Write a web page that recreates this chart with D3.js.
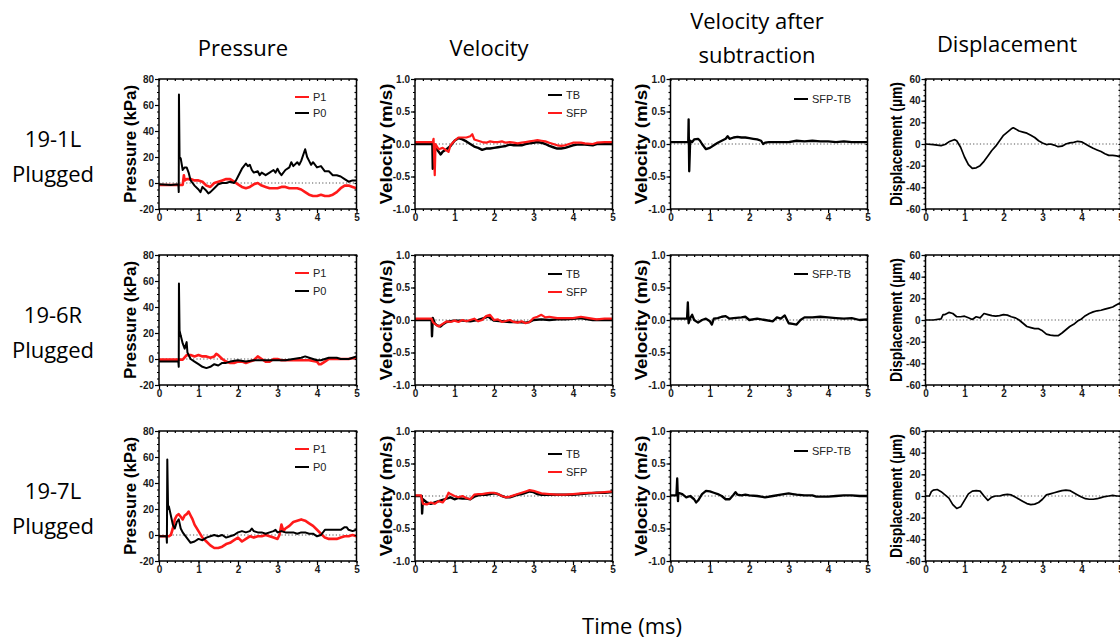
<!DOCTYPE html>
<html>
<head>
<meta charset="utf-8">
<script src="https://cdn.jsdelivr.net/npm/d3@7"></script>
<style>
  body { margin: 0; background: #fff; }
  svg { display: block; }
</style>
</head>
<body>
<svg id="fig" width="1120" height="639"></svg>
<script>
// ---- labels / ticks ----
const colTitles = [["Pressure"], ["Velocity"], ["Velocity after", "subtraction"], ["Displacement"]]
const rowLabels = [["19-1L", "Plugged"], ["19-6R", "Plugged"], ["19-7L", "Plugged"]]
const xTicks = [0, 1, 2, 3, 4, 5]
const pressTicks = [-20, 0, 20, 40, 60, 80]
const velTicks = [-1.0, -0.5, 0.0, 0.5, 1.0]
const dispTicks = [-60, -40, -20, 0, 20, 40, 60]

// ---- 19-1L ----
const p1_1L = [[0,-1.5],[0.3,-1.5],[0.6,-1.5],[0.63,6],[0.65,2],[0.7,3],[0.8,3],[0.9,2],[1.0,2],[1.1,1],[1.2,-2],[1.3,-3],[1.4,0],[1.5,1],[1.6,2],[1.7,3],[1.8,3],[1.9,1],[2.0,-1],[2.1,-3],[2.2,-4],[2.3,-3],[2.4,-1],[2.5,0],[2.6,-2],[2.7,-3],[2.8,-4],[2.9,-4],[3.0,-4],[3.1,-3],[3.2,-3],[3.3,-4],[3.4,-4],[3.5,-4],[3.6,-5],[3.7,-7],[3.8,-9],[3.9,-10],[4.0,-10],[4.1,-9],[4.2,-10],[4.3,-10],[4.4,-9],[4.5,-7],[4.6,-4],[4.7,-2],[4.8,-2],[4.9,-3],[5.0,-4]]
const p0_1L = [[0,-1],[0.3,-1.5],[0.49,-1],[0.5,-7],[0.505,68],[0.52,20],[0.55,19],[0.6,10],[0.65,12],[0.7,12],[0.75,8],[0.8,2],[0.85,0],[0.9,-2],[1.0,-5],[1.05,-7],[1.1,-3],[1.2,-6],[1.25,-8],[1.3,-7],[1.4,-4],[1.5,-1],[1.6,0],[1.7,0],[1.8,1],[1.9,0],[1.95,2],[2.0,5],[2.1,11],[2.2,15],[2.25,13],[2.3,14],[2.35,10],[2.4,8],[2.5,9],[2.55,6],[2.6,8],[2.7,6],[2.8,8],[2.9,10],[2.95,8],[3.0,11],[3.05,8],[3.1,6],[3.2,10],[3.3,12],[3.35,16],[3.4,13],[3.5,16],[3.55,14],[3.6,17],[3.7,26],[3.75,20],[3.8,17],[3.85,14],[3.9,16],[4.0,12],[4.1,13],[4.2,9],[4.3,9],[4.4,6],[4.5,6],[4.6,5],[4.7,3],[4.8,1],[4.9,2],[5.0,2]]
const tb_1L = [[0,0],[0.44,0],[0.45,-0.38],[0.47,-0.05],[0.55,-0.08],[0.6,-0.12],[0.65,-0.16],[0.7,-0.12],[0.8,-0.08],[0.9,-0.03],[1.0,0.05],[1.1,0.09],[1.2,0.07],[1.3,0.04],[1.4,0.0],[1.5,-0.04],[1.6,-0.06],[1.7,-0.09],[1.8,-0.07],[1.9,-0.07],[2.0,-0.06],[2.1,-0.05],[2.2,-0.04],[2.3,-0.03],[2.4,-0.01],[2.5,-0.02],[2.6,-0.02],[2.7,-0.02],[2.8,0.0],[2.9,0.01],[3.0,0.02],[3.1,0.03],[3.2,0.02],[3.3,0.0],[3.4,-0.03],[3.5,-0.05],[3.6,-0.07],[3.7,-0.07],[3.8,-0.06],[3.9,-0.04],[4.0,-0.02],[4.1,-0.01],[4.3,-0.01],[4.5,-0.02],[4.6,0.0],[5.0,0.0]]
const sfp_1L = [[0,0.03],[0.45,0.03],[0.47,0.08],[0.5,-0.48],[0.52,0.0],[0.55,-0.03],[0.6,-0.08],[0.7,-0.06],[0.8,-0.1],[0.85,-0.12],[0.9,-0.02],[1.0,0.05],[1.1,0.1],[1.2,0.1],[1.3,0.1],[1.4,0.12],[1.45,0.15],[1.5,0.07],[1.6,0.05],[1.7,0.03],[1.8,0.02],[1.9,0.04],[2.0,0.03],[2.1,0.03],[2.2,0.04],[2.3,0.02],[2.4,0.03],[2.5,0.02],[2.6,0.01],[2.7,0.02],[2.8,0.03],[2.9,0.04],[3.0,0.05],[3.1,0.06],[3.2,0.05],[3.3,0.04],[3.4,0.02],[3.5,0.0],[3.6,-0.02],[3.7,-0.03],[3.8,-0.02],[3.9,0.0],[4.0,0.02],[4.2,0.02],[4.3,0.01],[4.5,0.0],[4.6,0.02],[4.8,0.03],[5.0,0.03]]
const diff_1L = [[0,0.03],[0.45,0.03],[0.46,0.38],[0.475,-0.42],[0.5,0.05],[0.55,0.03],[0.6,0.07],[0.7,0.08],[0.75,0.05],[0.8,0.0],[0.9,-0.08],[1.0,-0.06],[1.1,-0.02],[1.2,0.02],[1.3,0.05],[1.4,0.08],[1.45,0.12],[1.5,0.08],[1.6,0.1],[1.7,0.11],[1.8,0.1],[1.9,0.1],[2.0,0.09],[2.1,0.08],[2.2,0.07],[2.3,0.05],[2.35,0.0],[2.4,0.02],[2.5,0.03],[2.8,0.03],[3.0,0.03],[3.2,0.05],[3.4,0.04],[3.6,0.05],[3.8,0.04],[4.0,0.04],[4.2,0.03],[4.4,0.04],[4.6,0.03],[5.0,0.03]]
const disp_1L = [[0,0],[0.2,-0.5],[0.4,-1.5],[0.5,-0.5],[0.6,2],[0.7,3.5],[0.75,4],[0.8,3],[0.9,-3],[1.0,-12],[1.1,-19],[1.2,-22.5],[1.3,-22],[1.4,-20],[1.5,-16],[1.6,-11],[1.7,-6],[1.8,-2],[1.9,3],[2.0,8],[2.1,11],[2.2,14],[2.25,15],[2.3,14],[2.4,12],[2.5,11],[2.6,10],[2.7,8],[2.8,6],[2.9,3],[3.0,1],[3.1,-0.5],[3.2,0],[3.3,-1],[3.4,-2.5],[3.5,-2],[3.6,0],[3.7,1],[3.8,1.5],[3.9,2.5],[4.0,2],[4.1,0],[4.2,-2],[4.3,-4],[4.4,-5.5],[4.5,-7],[4.6,-9],[4.7,-10.5],[4.8,-10.5],[4.9,-11],[5.0,-12]]

// ---- 19-6R ----
const p1_6R = [[0,-0.5],[0.6,-0.5],[0.7,3],[0.8,3],[0.9,2],[1.0,3],[1.1,2],[1.2,2],[1.3,1],[1.4,2],[1.45,4],[1.5,3],[1.6,0],[1.7,-2],[1.8,-3],[1.9,-3],[2.0,-2],[2.1,-2],[2.2,-3],[2.3,-2],[2.4,-1],[2.5,2],[2.6,0],[2.7,-2],[2.8,-2],[2.9,0],[3.0,0],[3.1,-1],[3.4,-1],[3.8,-1],[4.0,-2],[4.05,-4],[4.1,-4],[4.2,-2],[4.3,0],[4.6,0],[4.8,0],[5.0,1]]
const p0_6R = [[0,-2],[0.49,-2],[0.5,-6],[0.505,58],[0.52,22],[0.55,18],[0.6,12],[0.65,8],[0.7,13],[0.72,5],[0.8,0],[0.9,-2],[1.0,-4],[1.1,-6],[1.2,-7],[1.3,-6],[1.4,-4],[1.5,-5],[1.6,-3],[1.7,-3],[1.8,-2],[2.0,-1],[2.2,-2],[2.4,-1],[3.2,-1],[3.4,0],[3.6,1],[3.7,2],[3.8,1],[3.9,0],[4.0,-1],[4.1,-1],[4.2,0],[4.3,1],[4.5,1],[4.6,0],[4.8,0],[4.9,1],[5.0,2]]
const tb_6R = [[0,0],[0.42,0],[0.43,-0.25],[0.45,0.03],[0.5,-0.05],[0.55,-0.08],[0.6,-0.09],[0.65,-0.1],[0.7,-0.07],[0.8,-0.03],[0.9,-0.02],[1.0,-0.01],[1.2,-0.01],[1.4,-0.02],[1.5,-0.01],[1.6,0.0],[1.7,0.02],[1.8,0.04],[1.85,0.06],[1.9,0.03],[2.0,-0.01],[2.2,-0.02],[2.4,-0.03],[2.6,-0.03],[2.8,-0.04],[2.9,-0.03],[3.0,0.0],[3.2,0.01],[3.4,0.0],[3.6,0.01],[3.8,0.01],[4.0,0.02],[4.2,0.03],[4.3,0.02],[4.5,0.0],[5.0,0.0]]
const sfp_6R = [[0,0.02],[0.42,0.02],[0.45,-0.03],[0.5,-0.06],[0.6,-0.1],[0.7,-0.06],[0.8,-0.02],[0.9,-0.03],[1.0,-0.01],[1.1,-0.03],[1.2,0.0],[1.3,-0.02],[1.4,0.0],[1.5,0.02],[1.6,-0.02],[1.7,0.0],[1.8,0.06],[1.9,0.08],[2.0,0.0],[2.1,0.01],[2.2,-0.03],[2.4,0.0],[2.5,-0.03],[2.6,-0.04],[2.7,-0.02],[2.8,-0.05],[2.9,-0.03],[3.0,0.03],[3.1,0.05],[3.2,0.08],[3.3,0.04],[3.4,0.05],[3.6,0.03],[4.0,0.03],[4.2,0.05],[4.4,0.03],[4.6,0.01],[4.8,0.02],[5.0,0.02]]
const diff_6R = [[0,0.02],[0.42,0.02],[0.44,0.27],[0.46,-0.05],[0.5,0.03],[0.55,0.08],[0.6,0.0],[0.7,-0.04],[0.8,0.0],[0.9,0.02],[1.0,-0.02],[1.05,-0.07],[1.1,0.02],[1.2,0.03],[1.3,0.05],[1.4,0.06],[1.5,0.02],[1.6,0.03],[1.8,0.04],[1.9,0.05],[2.0,0.0],[2.2,0.02],[2.4,0.0],[2.6,-0.02],[2.7,0.04],[2.8,0.02],[2.9,0.07],[3.0,-0.05],[3.1,-0.06],[3.2,-0.07],[3.3,0.0],[3.4,0.04],[3.6,0.04],[3.8,0.05],[4.0,0.04],[4.2,0.03],[4.4,0.02],[4.6,0.03],[4.8,0.0],[5.0,0.01]]
const disp_6R = [[0,0],[0.2,0],[0.4,1],[0.45,5],[0.5,5],[0.6,7],[0.7,6],[0.8,3],[0.9,3],[1.0,3.5],[1.1,2],[1.2,0.5],[1.3,3],[1.4,2],[1.5,6],[1.6,5],[1.7,4],[1.8,3.5],[1.9,4],[2.0,5],[2.1,4.5],[2.2,3],[2.3,2],[2.4,0],[2.5,-3],[2.6,-6],[2.7,-7],[2.8,-8],[2.9,-8],[3.0,-10],[3.1,-13],[3.2,-14],[3.3,-14.5],[3.4,-14.5],[3.5,-12],[3.6,-9],[3.7,-6],[3.8,-4],[3.9,-1],[4.0,1],[4.1,4],[4.2,6],[4.3,7.5],[4.4,8.5],[4.5,9],[4.6,10],[4.7,11],[4.8,12],[4.9,14],[5.0,16]]

// ---- 19-7L ----
const p1_7L = [[0,-1],[0.25,-1],[0.3,0],[0.35,5],[0.4,12],[0.45,15],[0.5,16],[0.55,14],[0.6,12],[0.65,15],[0.7,16],[0.75,18],[0.8,15],[0.85,12],[0.9,8],[1.0,3],[1.1,-2],[1.2,-5],[1.3,-8],[1.4,-10],[1.5,-10],[1.6,-9],[1.7,-7],[1.8,-6],[1.9,-4],[2.0,-2],[2.1,-5],[2.2,-3],[2.3,-1],[2.4,-2],[2.5,-1],[2.6,-1],[2.7,0],[2.8,-1],[2.9,-2],[3.0,-3],[3.05,0],[3.1,8],[3.15,3],[3.2,5],[3.3,7],[3.4,10],[3.5,11],[3.6,12],[3.7,11],[3.8,9],[3.9,7],[4.0,4],[4.1,1],[4.2,-2],[4.3,-3],[4.5,-3],[4.6,-2],[4.7,-1],[4.8,-1],[4.9,0],[5.0,-1]]
const p0_7L = [[0,-1],[0.19,-1],[0.2,-6],[0.21,58],[0.23,20],[0.25,22],[0.3,15],[0.35,8],[0.4,5],[0.45,10],[0.5,12],[0.55,5],[0.6,2],[0.7,-2],[0.8,-6],[0.9,-5],[1.0,-3],[1.1,-4],[1.2,-2],[1.3,-1],[1.4,0],[1.5,-1],[1.6,0],[1.7,-2],[1.8,-1],[1.9,0],[2.0,2],[2.1,3],[2.2,2],[2.3,3],[2.35,5],[2.4,3],[2.5,2],[2.6,2],[2.7,1],[2.8,2],[2.9,3],[2.95,4],[3.0,2],[3.1,3],[3.2,2],[3.4,2],[3.5,1],[3.6,2],[3.7,2],[3.8,1],[3.9,1],[4.0,-1],[4.1,0],[4.2,4],[4.6,4],[4.7,6],[4.75,6],[4.8,4],[4.9,3],[5.0,4]]
const tb_7L = [[0,0],[0.17,0],[0.18,-0.27],[0.2,-0.05],[0.3,-0.1],[0.4,-0.12],[0.5,-0.1],[0.6,-0.08],[0.7,-0.06],[0.8,-0.04],[0.9,-0.02],[1.0,-0.05],[1.1,-0.03],[1.2,-0.04],[1.3,-0.04],[1.4,-0.05],[1.5,-0.01],[1.6,0.01],[1.7,0.02],[1.8,0.02],[1.9,0.03],[2.0,0.04],[2.1,0.03],[2.2,0.0],[2.3,-0.02],[2.4,-0.02],[2.5,0.0],[2.6,0.02],[2.7,0.03],[2.8,0.05],[2.9,0.07],[3.0,0.06],[3.1,0.03],[3.2,0.02],[4.0,0.02],[4.2,0.03],[4.4,0.04],[4.6,0.05],[4.8,0.05],[5.0,0.06]]
const sfp_7L = [[0,0.01],[0.15,0.01],[0.2,-0.12],[0.3,-0.13],[0.4,-0.1],[0.5,-0.12],[0.6,-0.08],[0.7,-0.1],[0.8,-0.02],[0.85,0.05],[0.9,0.03],[1.0,0.0],[1.1,-0.02],[1.2,0.0],[1.3,-0.03],[1.4,-0.05],[1.5,0.02],[1.6,0.03],[1.7,0.03],[1.8,0.04],[1.9,0.05],[2.0,0.05],[2.1,0.03],[2.2,0.0],[2.3,-0.02],[2.4,-0.01],[2.5,0.01],[2.6,0.03],[2.7,0.05],[2.8,0.07],[2.9,0.09],[3.0,0.08],[3.1,0.06],[3.2,0.04],[3.4,0.03],[3.6,0.02],[3.8,0.02],[4.0,0.03],[4.2,0.04],[4.4,0.05],[4.6,0.05],[4.8,0.06],[5.0,0.07]]
const diff_7L = [[0,0.01],[0.15,0.01],[0.17,0.27],[0.19,-0.08],[0.2,0.05],[0.3,0.03],[0.4,-0.02],[0.5,0.0],[0.6,-0.05],[0.65,-0.1],[0.7,-0.07],[0.8,0.03],[0.9,0.08],[1.0,0.07],[1.1,0.05],[1.2,0.03],[1.3,0.0],[1.4,-0.05],[1.5,-0.05],[1.6,0.02],[1.65,0.06],[1.7,0.02],[1.8,0.01],[1.9,0.02],[2.0,0.01],[2.2,0.0],[2.4,-0.02],[2.6,0.0],[2.8,0.02],[3.0,0.04],[3.1,0.03],[3.2,0.02],[3.4,0.01],[3.6,0.01],[3.7,-0.01],[4.0,-0.01],[4.2,0.0],[4.4,0.01],[4.6,0.01],[4.8,0.0],[5.0,0.0]]
const disp_7L = [[0,0],[0.1,0],[0.15,4],[0.2,5.5],[0.3,6],[0.4,4],[0.5,1],[0.6,-2],[0.7,-8],[0.8,-11.5],[0.9,-10],[1.0,-4],[1.1,2],[1.2,4.5],[1.3,5],[1.4,4.5],[1.5,0],[1.6,-4],[1.7,-1],[1.8,0],[1.9,0],[2.0,1],[2.1,1.5],[2.2,1],[2.3,-1],[2.4,-3],[2.5,-5],[2.6,-7],[2.7,-8],[2.8,-7.5],[2.9,-6],[3.0,-3],[3.1,1],[3.2,2],[3.3,3],[3.4,4],[3.5,5],[3.6,5.5],[3.7,5],[3.8,3],[3.9,1],[4.0,-1],[4.1,-2.5],[4.2,-3],[4.3,-3],[4.4,-2.5],[4.5,-1.5],[4.6,-0.5],[4.7,0],[4.8,0.5],[4.9,0],[5.0,0]]

// ---- layout ----
let svg = d3.select('#fig')
const colLeft = [159, 415, 670.5, 925.5]
const colWidth = [197.5, 197.5, 197, 195]
const rowTop = [79, 255, 431]
const plotH = 130
const RED = '#ff1a1a'

const kinds = [
    {label: 'Pressure (kPa)', dom: [-20, 80], ticks: pressTicks, minor: 5, fmt: d => d, lenL: 118, legX: 136},
    {label: 'Velocity (m/s)', dom: [-1, 1], ticks: velTicks, minor: 0.1, fmt: d => d.toFixed(1), lenL: 121, legX: 133},
    {label: 'Velocity (m/s)', dom: [-1, 1], ticks: velTicks, minor: 0.1, fmt: d => d.toFixed(1), lenL: 121, legX: 123.5},
    {label: 'Displacement (\u00b5m)', dom: [-60, 60], ticks: dispTicks, minor: 5, fmt: d => d, lenL: 124, legX: null}
]

const panels = [
    [[{d: p1_1L, c: RED, n: 'P1', w: 2.6}, {d: p0_1L, c: '#000', n: 'P0', w: 2}], [18, 34]],
    [[{d: tb_1L, c: '#000', n: 'TB', w: 2.4}, {d: sfp_1L, c: RED, n: 'SFP', w: 2.2}], [16, 34]],
    [[{d: diff_1L, c: '#000', n: 'SFP-TB', w: 2.3}], [20]],
    [[{d: disp_1L, c: '#000', w: 1.7}], []],
    [[{d: p1_6R, c: RED, n: 'P1', w: 2.6}, {d: p0_6R, c: '#000', n: 'P0', w: 2}], [18, 36]],
    [[{d: tb_6R, c: '#000', n: 'TB', w: 2.4}, {d: sfp_6R, c: RED, n: 'SFP', w: 2.2}], [19, 37]],
    [[{d: diff_6R, c: '#000', n: 'SFP-TB', w: 2.3}], [19]],
    [[{d: disp_6R, c: '#000', w: 1.7}], []],
    [[{d: p1_7L, c: RED, n: 'P1', w: 2.6}, {d: p0_7L, c: '#000', n: 'P0', w: 2}], [18, 36]],
    [[{d: tb_7L, c: '#000', n: 'TB', w: 2.4}, {d: sfp_7L, c: RED, n: 'SFP', w: 2.2}], [23, 41]],
    [[{d: diff_7L, c: '#000', n: 'SFP-TB', w: 2.3}], [20]],
    [[{d: disp_7L, c: '#000', w: 1.7}], []]
]

function minorVals(dom, step) {
    let out = []
    let n = Math.round((dom[1] - dom[0]) / step)
    for (let i = 0; i <= n; i++) out.push(+(dom[0] + i * step).toFixed(4))
    return out
}

panels.forEach(function (p, i) {
    let row = Math.floor(i / 4), col = i % 4
    let k = kinds[col]
    let left = colLeft[col], top = rowTop[row], w = colWidth[col]
    let x = d3.scaleLinear().domain([0, 5]).range([left, left + w])
    let y = d3.scaleLinear().domain(k.dom).range([top + plotH, top])
    let g = svg.append('g')

    // zero line
    g.append('line')
        .attr('x1', x(0)).attr('x2', x(5)).attr('y1', y(0)).attr('y2', y(0))
        .attr('stroke', '#555').attr('stroke-width', 1).attr('stroke-dasharray', '1.2,2.2')

    // traces
    let line = d3.line().x(d => x(d[0])).y(d => y(d[1]))
    p[0].forEach(function (s) {
        g.append('path').datum(s.d)
            .attr('d', line)
            .attr('fill', 'none').attr('stroke', s.c).attr('stroke-width', s.w)
            .attr('stroke-linejoin', 'round')
    })

    // minor ticks
    g.append('g').attr('transform', 'translate(' + left + ',0)')
        .call(d3.axisLeft(y).tickValues(minorVals(k.dom, k.minor)).tickSize(2).tickFormat(''))
        .call(a => a.select('.domain').remove())
    g.append('g').attr('transform', 'translate(0,' + (top + plotH) + ')')
        .call(d3.axisBottom(x).tickValues(minorVals([0, 5], 0.2)).tickSize(2).tickFormat(''))
        .call(a => a.select('.domain').remove())
    // mirrored inner ticks on top / right
    g.append('g').attr('transform', 'translate(0,' + top + ')')
        .call(d3.axisTop(x).tickValues(minorVals([0, 5], 0.2)).tickSize(-2).tickFormat(''))
        .call(a => a.select('.domain').remove())
    g.append('g').attr('transform', 'translate(' + (left + w) + ',0)')
        .call(d3.axisRight(y).tickValues(minorVals(k.dom, k.minor)).tickSize(-2).tickFormat(''))
        .call(a => a.select('.domain').remove())

    // major axes
    g.append('g').attr('transform', 'translate(' + left + ',0)')
        .call(d3.axisLeft(y).tickValues(k.ticks).tickSize(4).tickPadding(1).tickFormat(k.fmt))
        .call(a => a.select('.domain').remove())
        .style('font', 'bold 10px "Liberation Sans", Arial, sans-serif')
    g.append('g').attr('transform', 'translate(0,' + (top + plotH) + ')')
        .call(d3.axisBottom(x).tickValues(xTicks).tickSize(4).tickPadding(1).tickFormat(d3.format('d')))
        .call(a => a.select('.domain').remove())
        .style('font', 'bold 10px "Liberation Sans", Arial, sans-serif')
    g.selectAll('.tick line').attr('stroke', '#000').attr('stroke-width', 1.2)
    g.selectAll('.tick text').attr('fill', '#1a1a1a')

    // frame
    g.append('rect').attr('x', left).attr('y', top).attr('width', w).attr('height', plotH)
        .attr('fill', 'none').attr('stroke', '#000').attr('stroke-width', 1.5)

    // y label
    g.append('text')
        .attr('transform', 'translate(' + (left - 29) + ',' + (top + plotH / 2) + ') rotate(-90)')
        .attr('text-anchor', 'middle').attr('dominant-baseline', 'central')
        .attr('textLength', k.lenL).attr('lengthAdjust', 'spacingAndGlyphs')
        .style('font', 'bold 16px "Liberation Sans", Arial, sans-serif')
        .text(k.label)

    // legend
    p[0].forEach(function (s, j) {
        if (!s.n) return
        let ly = top + p[1][j]
        g.append('line').attr('x1', left + k.legX).attr('x2', left + k.legX + 14)
            .attr('y1', ly).attr('y2', ly).attr('stroke', s.c).attr('stroke-width', 2)
        g.append('text').attr('x', left + k.legX + 18).attr('y', ly)
            .attr('dominant-baseline', 'central')
            .style('font', '11px "Liberation Sans", Arial, sans-serif').attr('fill', '#222')
            .text(s.n)
    })
})

// column titles
const titleX = [243, 489, 757, 1007]
const titleY = [[47], [47], [20, 54], [43]]
colTitles.forEach(function (t, c) {
    t.forEach(function (line, j) {
        svg.append('text')
            .attr('x', titleX[c]).attr('y', titleY[c][j])
            .attr('text-anchor', 'middle').attr('dominant-baseline', 'central')
            .style('font', '22px "Open Sans", sans-serif').attr('fill', '#000')
            .text(line)
    })
})

// row labels
rowLabels.forEach(function (t, r) {
    t.forEach(function (line, j) {
        svg.append('text')
            .attr('x', 53).attr('y', rowTop[r] + 59 + j * 35)
            .attr('text-anchor', 'middle').attr('dominant-baseline', 'central')
            .style('font', '22px "Open Sans", sans-serif').attr('fill', '#000')
            .text(line)
    })
})

svg.append('text')
    .attr('x', 632).attr('y', 625)
    .attr('text-anchor', 'middle').attr('dominant-baseline', 'central')
    .style('font', '22px "Open Sans", sans-serif').attr('fill', '#000')
    .text('Time (ms)')
</script>
</body>
</html>
